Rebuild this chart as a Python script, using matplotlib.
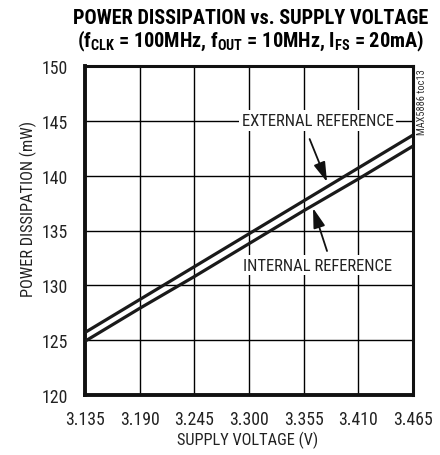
import matplotlib
matplotlib.use("Agg")
import matplotlib.pyplot as plt
from matplotlib.patches import FancyArrowPatch

# Data
supply_v = [3.135, 3.190, 3.245, 3.300, 3.355, 3.410, 3.465]
p_external = [125.7, 128.7, 131.7, 134.7, 137.7, 140.7, 143.7]
p_internal = [124.9, 127.9, 130.8, 133.8, 136.8, 139.7, 142.7]
x_ticks = [3.135, 3.190, 3.245, 3.300, 3.355, 3.410, 3.465]
x_tick_labels = ["3.135", "3.190", "3.245", "3.300", "3.355", "3.410", "3.465"]
y_ticks = [120, 125, 130, 135, 140, 145, 150]

FONT = "Roboto Condensed"
plt.rcParams['font.family'] = [FONT, 'DejaVu Sans']
plt.rcParams['mathtext.fontset'] = 'custom'
plt.rcParams['mathtext.rm'] = FONT + ':bold'
plt.rcParams['mathtext.it'] = FONT + ':bold'
plt.rcParams['mathtext.bf'] = FONT + ':bold'

TXT = '#222222'
W, H = 440, 456
fig = plt.figure(figsize=(W / 100, H / 100), dpi=100)
L, R, T, B = 85, 413, 67, 396
ax = fig.add_axes([L / W, 1 - B / H, (R - L) / W, (B - T) / H])

ax.plot(supply_v, p_external, color='#1a1a1a', lw=2.3, solid_capstyle='butt', zorder=3)
ax.plot(supply_v, p_internal, color='#1a1a1a', lw=2.3, solid_capstyle='butt', zorder=3)

ax.set_xlim(x_ticks[0], x_ticks[-1])
ax.set_ylim(y_ticks[0], y_ticks[-1])
ax.set_xticks(x_ticks)
ax.set_xticklabels(x_tick_labels)
ax.set_yticks(y_ticks)
ax.grid(True, color='black', lw=1.0, zorder=1)
ax.set_axisbelow(True)
ax.tick_params(length=0, labelsize=12.8, colors=TXT)
ax.tick_params(axis='x', pad=11)
ax.tick_params(axis='y', pad=12)
for s in ax.spines.values():
    s.set_linewidth(2.2)
    s.set_color('#111111')
ax.spines['left'].set_linewidth(2.8)
ax.spines['bottom'].set_linewidth(2.8)

fig.text(248 / W, 1 - 440 / H, "SUPPLY VOLTAGE (V)", ha='center', va='center',
         fontsize=11.8, color=TXT)
fig.text(28 / W, 1 - 209 / H, "POWER DISSIPATION (mW)", rotation=90,
         ha='center', va='center', fontsize=11.8, color=TXT)

# Annotations
ax.text(3.369, 145, "EXTERNAL REFERENCE", ha='center', va='center', fontsize=12,
        color=TXT, zorder=4,
        bbox=dict(facecolor='white', edgecolor='none', pad=2))
ax.text(3.369, 131.85, "INTERNAL REFERENCE", ha='center', va='center', fontsize=12,
        color=TXT, zorder=4,
        bbox=dict(facecolor='white', edgecolor='none', pad=2))
for (x0, y0), (x1, y1) in [((3.361, 143.34), (3.3785, 139.42)),
                           ((3.3785, 133.13), (3.3644, 137.05))]:
    ax.add_patch(FancyArrowPatch((x0, y0), (x1, y1), arrowstyle='-|>,head_length=1.0,head_width=0.3',
                                 mutation_scale=12, lw=1.3, color='#111111', zorder=5,
                                 shrinkA=0, shrinkB=0))

fig.text(422 / W, 1 - 102 / H, "MAX5886 toc13", rotation=90, ha='center', va='center',
         fontsize=7.5, color='#333333')

fig.text(251 / W, 1 - 18 / H, "POWER DISSIPATION vs. SUPPLY VOLTAGE", ha='center', va='center',
         fontsize=14.6, fontweight='bold', color='black')
fig.text(251 / W, 1 - 41 / H,
         r"(f$_{\mathrm{CLK}}$ = 100MHz, f$_{\mathrm{OUT}}$ = 10MHz, I$_{\mathrm{FS}}$ = 20mA)",
         ha='center', va='center', fontsize=14.6, fontweight='bold', color='black')

fig.savefig("out.png", dpi=100)
